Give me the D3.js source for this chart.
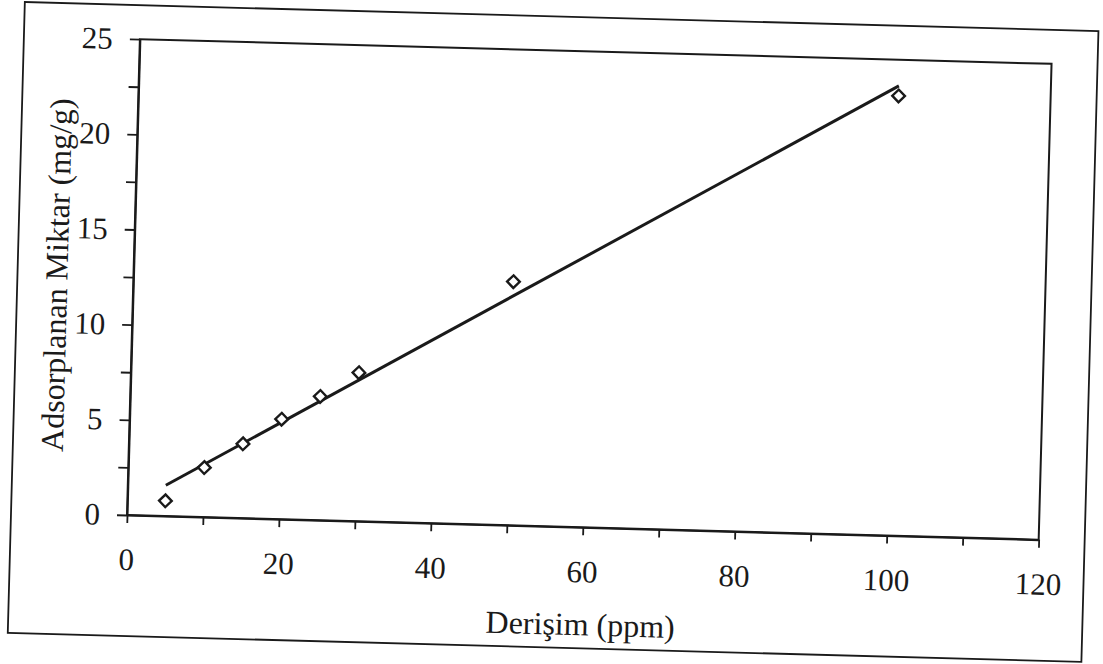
<!DOCTYPE html>
<html>
<head>
<meta charset="utf-8">
<script src="https://cdn.jsdelivr.net/npm/d3@7"></script>
<style>
  html, body { margin: 0; padding: 0; background: #fff; }
  svg { display: block; }
  text { font-family: "Liberation Serif", "Times New Roman", serif; fill: #1a1a1a; }
</style>
</head>
<body>
<svg id="chart" width="1103" height="664"></svg>
<script>
// measured points: concentration (ppm) vs adsorbed amount (mg/g)
var concentration = [5, 10, 15, 20, 25, 30, 50, 100];
var adsorbed = [0.8, 2.6, 3.9, 5.25, 6.5, 7.8, 12.8, 23.1];

var xTicks = [0, 10, 20, 30, 40, 50, 60, 70, 80, 90, 100, 110, 120];
var yTicks = [0, 2.5, 5, 7.5, 10, 12.5, 15, 17.5, 20, 22.5, 25];
var xLabelTicks = [0, 20, 40, 60, 80, 100, 120];
var yLabelTicks = [0, 5, 10, 15, 20, 25];

var xTitle = "Derişim (ppm)";
var yTitle = "Adsorplanan Miktar (mg/g)";

var width = 912, height = 476;
var ink = "#1a1a1a";

var svg = d3.select("#chart");

// the scanned page is tilted a little clockwise, so the whole chart is turned
var chart = svg.append("g")
  .attr("transform", "translate(127,515) rotate(1.55) translate(0," + (-height) + ")");

// outer frame of the chart area
chart.append("rect")
  .attr("x", -116).attr("y", -34)
  .attr("width", 1074).attr("height", 631)
  .attr("fill", "none").attr("stroke", ink).attr("stroke-width", 1.8);

var x = d3.scaleLinear().domain([0, 120]).range([0, width]);
var y = d3.scaleLinear().domain([0, 25]).range([height, 0]);

// plot area border
chart.append("rect")
  .attr("width", width).attr("height", height)
  .attr("fill", "none").attr("stroke", ink).attr("stroke-width", 2);

var xAxis = chart.append("g")
  .attr("transform", "translate(0," + height + ")")
  .call(d3.axisBottom(x)
    .tickValues(xTicks)
    .tickSize(8)
    .tickSizeOuter(0)
    .tickPadding(25)
    .tickFormat(function(d) { return xLabelTicks.indexOf(d) >= 0 ? d : ""; }));

var yAxis = chart.append("g")
  .call(d3.axisLeft(y)
    .tickValues(yTicks)
    .tickSize(10)
    .tickSizeOuter(0)
    .tickPadding(17)
    .tickFormat(function(d) { return yLabelTicks.indexOf(d) >= 0 ? d : ""; }));

[xAxis, yAxis].forEach(function(a) {
  a.select(".domain").attr("stroke", ink).attr("stroke-width", 2);
  a.selectAll(".tick line").attr("stroke", ink).attr("stroke-width", 1.8);
  a.selectAll(".tick text").style("font-size", "31px").attr("fill", ink);
});

// least squares trendline over the data range
var mx = d3.mean(concentration), my = d3.mean(adsorbed);
var sxy = d3.sum(concentration, function(c, i) { return (c - mx) * (adsorbed[i] - my); });
var sxx = d3.sum(concentration, function(c) { return (c - mx) * (c - mx); });
var slope = sxy / sxx, intercept = my - slope * mx;
var xr = d3.extent(concentration);

chart.append("line")
  .attr("x1", x(xr[0])).attr("y1", y(intercept + slope * xr[0]))
  .attr("x2", x(xr[1])).attr("y2", y(intercept + slope * xr[1]))
  .attr("stroke", ink).attr("stroke-width", 3);

// open diamond markers
var diamond = d3.symbol().type(d3.symbolSquare).size(80);
chart.selectAll(".pt")
  .data(concentration)
  .join("path")
    .attr("class", "pt")
    .attr("d", diamond)
    .attr("transform", function(d, i) { return "translate(" + x(d) + "," + y(adsorbed[i]) + ") rotate(45)"; })
    .attr("fill", "#fff")
    .attr("stroke", ink)
    .attr("stroke-width", 2.4);

// axis titles
chart.append("text")
  .attr("x", width / 2).attr("y", height + 108)
  .attr("text-anchor", "middle")
  .style("font-size", "32px")
  .text(xTitle);

chart.append("text")
  .attr("transform", "translate(-66," + (height / 2) + ") rotate(-90)")
  .attr("text-anchor", "middle")
  .style("font-size", "32px")
  .text(yTitle);
</script>
</body>
</html>
